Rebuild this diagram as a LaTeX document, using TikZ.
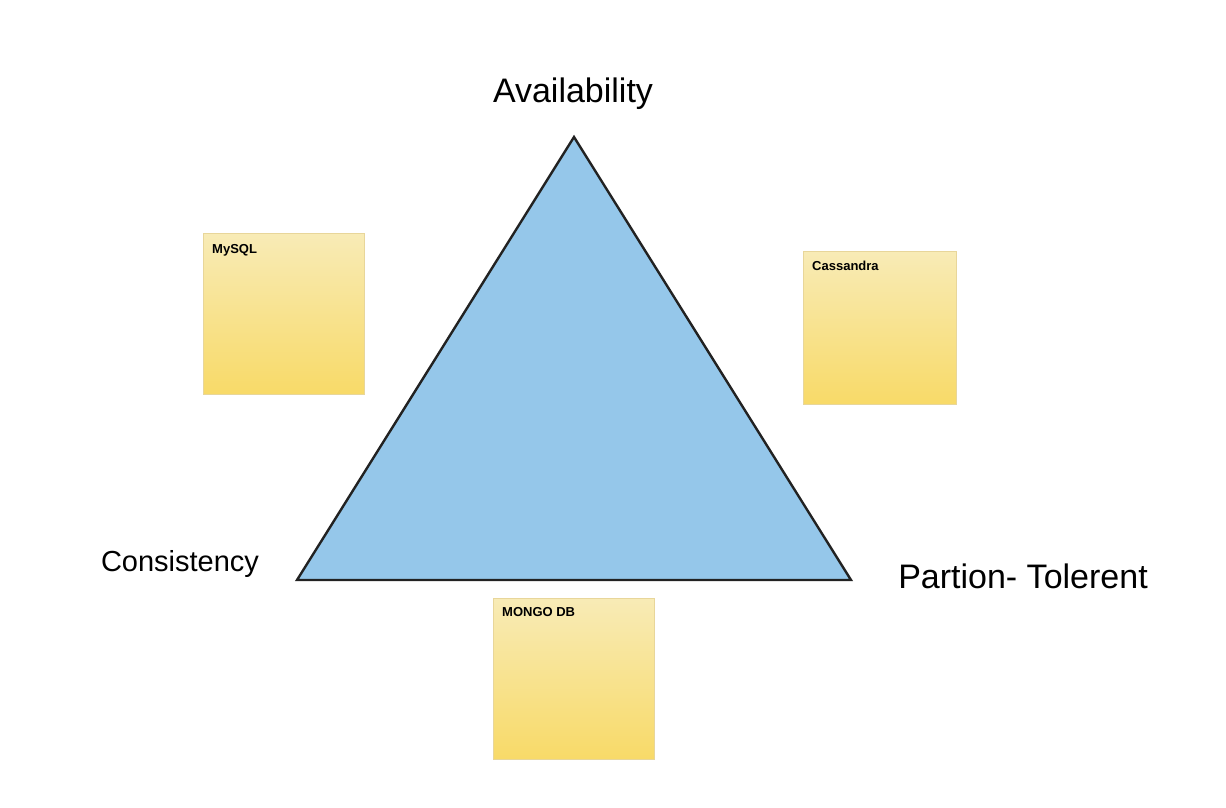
\documentclass[tikz,border=0pt]{standalone}
\usepackage{fontspec}
\setmainfont{Liberation Sans}
\newfontfamily\handfont{Liberation Sans}
\definecolor{triblue}{HTML}{95C7EA}
\definecolor{triedge}{HTML}{222222}
\definecolor{notetop}{HTML}{F8EBB6}
\definecolor{notebot}{HTML}{F8DA68}
\definecolor{noteedge}{HTML}{E8D69A}
\tikzset{
  x=1pt, y=-1pt,
  note/.style={draw=noteedge, line width=0.6pt, top color=notetop, bottom color=notebot,
    minimum width=#1, minimum height=#1, inner sep=0pt, anchor=north west},
  notelabel/.style={font=\bfseries\fontsize{13}{15}\selectfont, anchor=north west, inner sep=0pt},
  biglabel/.style={font=\handfont\fontsize{#1}{38}\selectfont, inner sep=0pt}
}
\begin{document}
\begin{tikzpicture}
\useasboundingbox (0,0) rectangle (1226,807);
% triangle
\coordinate (apex) at (574,137);
\coordinate (bl) at (297,580);
\coordinate (br) at (851,580);
\filldraw[fill=triblue, draw=triedge, line width=2.4pt, line join=miter] (apex) -- (br) -- (bl) -- cycle;
% labels
\node[biglabel=34] (avail) at (573,94) {Availability};
\node[biglabel=29] (cons) at (180,564) {Consistency};
\node[biglabel=34] (part) at (1023,576) {Partion- Tolerent};
% sticky notes
\node[note=161pt] (mysql) at (203,233) {};
\node[notelabel] (mysqlt) at (212,244) {MySQL};
\node[note=153pt] (cass) at (803,251) {};
\node[notelabel] (casst) at (812,261) {Cassandra};
\node[note=161pt] (mongo) at (493,598) {};
\node[notelabel] (mongot) at (502,607) {MONGO DB};
\end{tikzpicture}
\end{document}
